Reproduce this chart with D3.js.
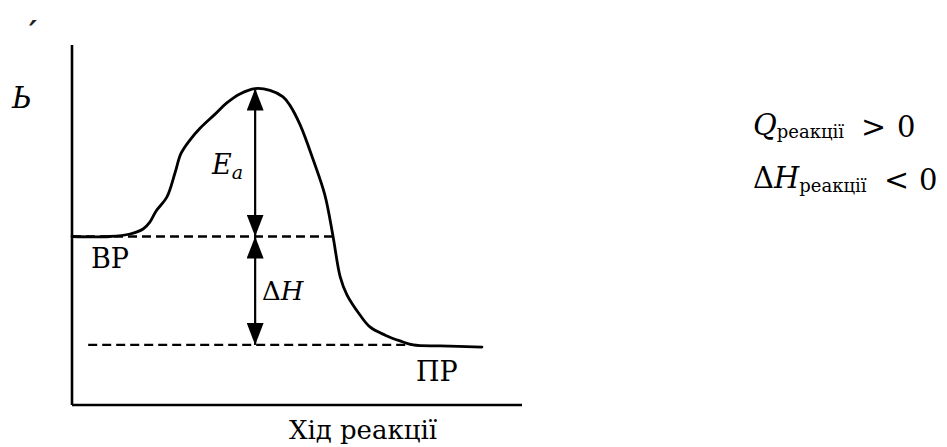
<!DOCTYPE html>
<html><head><meta charset="utf-8"><script src="https://cdn.jsdelivr.net/npm/d3@7"></script></head>
<body style="margin:0">
<svg id="s" width="947" height="447"></svg>
<script>
// ---- Data (reaction progress 0..100, energy 0..100) ----
const progress = [0, 8.4, 12.9, 15.8, 17.3, 18.7, 21.1, 22.9, 24.2, 26.2, 28.4, 31.8, 34.4, 37.3, 40.7, 44, 46.9, 48.4, 50.7, 53.6, 56.2, 58, 59.6, 61.1, 64, 66.2, 69.6, 72.9, 75.8, 81.8, 91.1];
const energy   = [46.8, 46.8, 47.5, 48.9, 50.8, 53.9, 57.8, 64.5, 69.8, 73.6, 76.8, 80.8, 83.9, 86.4, 87.9, 87.4, 85.6, 83.3, 77.8, 68.1, 58.3, 46.9, 35.6, 30.6, 25, 21.7, 19.4, 17.8, 16.7, 16.4, 16.1];
const reactantLevel = 46.8;
const productLevel = 16.7;
const peakLevel = 87.9;
const peakProgress = 40.7;
const reactantDashEnd = 58;
const productDashRange = [3.6, 75.8];
const labels = { reactants: "ВР", products: "ПР", xAxis: "Хід реакції", yAxis: "Ь" };

const s = d3.select("#s");
const FONT = "'DejaVu Serif'";
const x = d3.scaleLinear().domain([0, 100]).range([72, 522]);
const y = d3.scaleLinear().domain([0, 100]).range([405, 45]);

function txt(xp, yp, size, str) {
  return s.append("text").attr("x", xp).attr("y", yp).attr("font-size", size)
    .style("font-family", FONT).attr("fill", "#000").text(str || null);
}

txt(91, 268, 27, labels.reactants);
txt(416, 381, 27, labels.products);
txt(363, 439, 26, labels.xAxis).attr("text-anchor", "middle");
txt(12, 108, 29, labels.yAxis).style("font-style", "italic");
txt(29, 42, 30, "′").style("font-style", "italic").style("font-weight", "bold").attr("fill", "#222");

const ea = txt(212, 174, 27).style("font-style", "italic");
ea.append("tspan").text("E");
ea.append("tspan").attr("font-size", 19).attr("dy", 5).text("a");

const dh = txt(262, 300, 26);
dh.append("tspan").text("Δ");
dh.append("tspan").style("font-style", "italic").text("H");

const q = txt(753, 135, 29);
q.append("tspan").style("font-style", "italic").text("Q");
q.append("tspan").attr("font-size", 18).attr("dy", 3).text("реакції");
txt(861, 137, 30, ">");
txt(897, 137, 29, "0");

const h = txt(753, 188, 29);
h.append("tspan").text("Δ");
h.append("tspan").style("font-style", "italic").text("H");
h.append("tspan").attr("font-size", 18).attr("dy", 4).text("реакції");
txt(884, 190, 30, "<");
txt(919, 190, 29, "0");

// arrow marker
s.append("defs").append("marker")
  .attr("id", "arr")
  .attr("viewBox", "0 0 22 17")
  .attr("refX", 22).attr("refY", 8.5)
  .attr("markerWidth", 22).attr("markerHeight", 17)
  .attr("markerUnits", "userSpaceOnUse")
  .attr("orient", "auto-start-reverse")
  .append("path").attr("d", "M0,0 L22,8.5 L0,17 Z").attr("fill", "#000");

// axes
s.append("line").attr("x1", x(0)).attr("x2", x(0)).attr("y1", y(100)).attr("y2", y(0))
  .attr("stroke", "#000").attr("stroke-width", 2.6);
s.append("line").attr("x1", x(0)).attr("x2", x(100)).attr("y1", y(0)).attr("y2", y(0))
  .attr("stroke", "#000").attr("stroke-width", 2.6);

// dashed levels
s.append("line").attr("x1", x(0)).attr("x2", x(reactantDashEnd))
  .attr("y1", y(reactantLevel)).attr("y2", y(reactantLevel))
  .attr("stroke", "#000").attr("stroke-width", 2.4).attr("stroke-dasharray", "9,5");
s.append("line").attr("x1", x(productDashRange[0])).attr("x2", x(productDashRange[1]))
  .attr("y1", y(productLevel)).attr("y2", y(productLevel))
  .attr("stroke", "#000").attr("stroke-width", 2.4).attr("stroke-dasharray", "9,5");

// energy curve
const pts = progress.map((p, i) => [p, energy[i]]);
const line = d3.line().x(d => x(d[0])).y(d => y(d[1])).curve(d3.curveCatmullRom.alpha(0.5));
s.append("path").datum(pts).attr("d", line)
  .attr("fill", "none").attr("stroke", "#000").attr("stroke-width", 2.8)
  .attr("stroke-linejoin", "round").attr("stroke-linecap", "round");

// double arrows
function dblArrow(v, e1, e2) {
  s.append("line").attr("x1", x(v)).attr("x2", x(v)).attr("y1", y(e1)).attr("y2", y(e2))
    .attr("stroke", "#000").attr("stroke-width", 2.2)
    .attr("marker-start", "url(#arr)").attr("marker-end", "url(#arr)");
}
dblArrow(peakProgress, peakLevel, reactantLevel);
dblArrow(peakProgress, reactantLevel, productLevel);
</script>
</body></html>
